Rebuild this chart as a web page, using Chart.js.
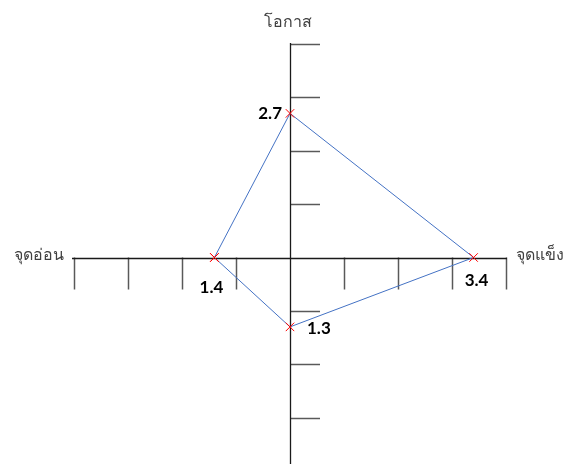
<!DOCTYPE html>
<html>
<head>
<meta charset="utf-8">
<script src="https://cdn.jsdelivr.net/npm/chart.js@4.4.1/dist/chart.umd.min.js"></script>
<style>
    html, body { margin: 0; padding: 0; background: #fff; }
    #wrap { width: 568px; height: 470px; }
</style>
</head>
<body>
<div id="wrap"><canvas id="swotChart"></canvas></div>
<script>
// values
const pointLabels = ['1.4', '2.7', '3.4', '1.3'];
const xValues = [-1.4, 0, 3.4, 0];
const yValues = [0, 2.7, 0, -1.3];
const xTicks = [-4, -3, -2, -1, 1, 2, 3, 4];
const yTicks = [4, 3, 2, 1, -1, -2, -3];
const axisNames = { right: 'จุดแข็ง', left: 'จุดอ่อน', top: 'โอกาส' };

const points = xValues.map((x, i) => ({ x: x, y: yValues[i] }));
// close the shape back to the first point
const shape = points.concat([points[0]]);

const thaiFont = '16px "Noto Sans", "DejaVu Sans", sans-serif';
const valueFont = 'bold 17px Lato, "Open Sans", sans-serif';

// axes with tick marks, crossing at 0,0
const crossAxes = {
    id: 'crossAxes',
    beforeDatasetsDraw(chart) {
        const ctx = chart.ctx;
        const xs = chart.scales.x;
        const ys = chart.scales.y;
        const x0 = xs.getPixelForValue(0);
        const y0 = ys.getPixelForValue(0);
        ctx.save();

        ctx.strokeStyle = '#595959';
        ctx.lineWidth = 1.5;
        xTicks.forEach(t => {
            const px = Math.round(xs.getPixelForValue(t)) + 0.5;
            ctx.beginPath();
            ctx.moveTo(px, y0);
            ctx.lineTo(px, y0 + 32);
            ctx.stroke();
        });
        yTicks.forEach(t => {
            const py = Math.round(ys.getPixelForValue(t)) + 0.5;
            ctx.beginPath();
            ctx.moveTo(x0, py);
            ctx.lineTo(x0 + 30, py);
            ctx.stroke();
        });

        ctx.strokeStyle = '#1a1a1a';
        ctx.lineWidth = 1.3;
        ctx.beginPath();
        ctx.moveTo(xs.left - 2, Math.round(y0) + 0.5);
        ctx.lineTo(xs.right + 1, Math.round(y0) + 0.5);
        ctx.moveTo(Math.round(x0) + 0.5, ys.top - 1);
        ctx.lineTo(Math.round(x0) + 0.5, ys.bottom + 1);
        ctx.stroke();

        ctx.fillStyle = '#404040';
        ctx.font = thaiFont;
        ctx.textBaseline = 'middle';
        ctx.textAlign = 'right';
        ctx.fillText(axisNames.left, xs.left - 10, y0 - 2);
        ctx.textAlign = 'left';
        ctx.fillText(axisNames.right, xs.right + 10, y0 - 2);
        ctx.textAlign = 'center';
        ctx.fillText(axisNames.top, x0 - 2, ys.top - 22);
        ctx.restore();
    },
    afterDatasetsDraw(chart) {
        const ctx = chart.ctx;
        const meta = chart.getDatasetMeta(0);
        // label offsets from each marker
        const offsets = [[-3, 30, 'center'], [-8, 0, 'right'], [3, 23, 'center'], [17, 2, 'left']];
        ctx.save();
        ctx.fillStyle = '#000';
        ctx.font = valueFont;
        ctx.textBaseline = 'middle';
        pointLabels.forEach((lbl, i) => {
            const el = meta.data[i];
            const o = offsets[i];
            ctx.textAlign = o[2];
            ctx.fillText(lbl, el.x + o[0], el.y + o[1]);
        });
        ctx.restore();
    }
};

const config = {
    type: 'scatter',
    data: {
        datasets: [{
            data: shape,
            showLine: true,
            borderColor: '#4472C4',
            borderWidth: 1,
            pointStyle: 'crossRot',
            pointRadius: 6,
            pointBorderColor: '#FF0000',
            pointBorderWidth: 1,
            pointBackgroundColor: '#FF0000',
            clip: false
        }]
    },
    options: {
        responsive: true,
        maintainAspectRatio: false,
        animation: false,
        layout: {
            padding: { left: 74, right: 62, top: 44, bottom: 2 }
        },
        plugins: {
            legend: { display: false },
            tooltip: { enabled: false }
        },
        scales: {
            x: { type: 'linear', min: -4, max: 4, display: false },
            y: { type: 'linear', min: -3.85, max: 4, display: false }
        }
    },
    plugins: [crossAxes]
};

window.onload = function () {
    const ctx = document.getElementById('swotChart').getContext('2d');
    new Chart(ctx, config);
};
</script>
</body>
</html>
